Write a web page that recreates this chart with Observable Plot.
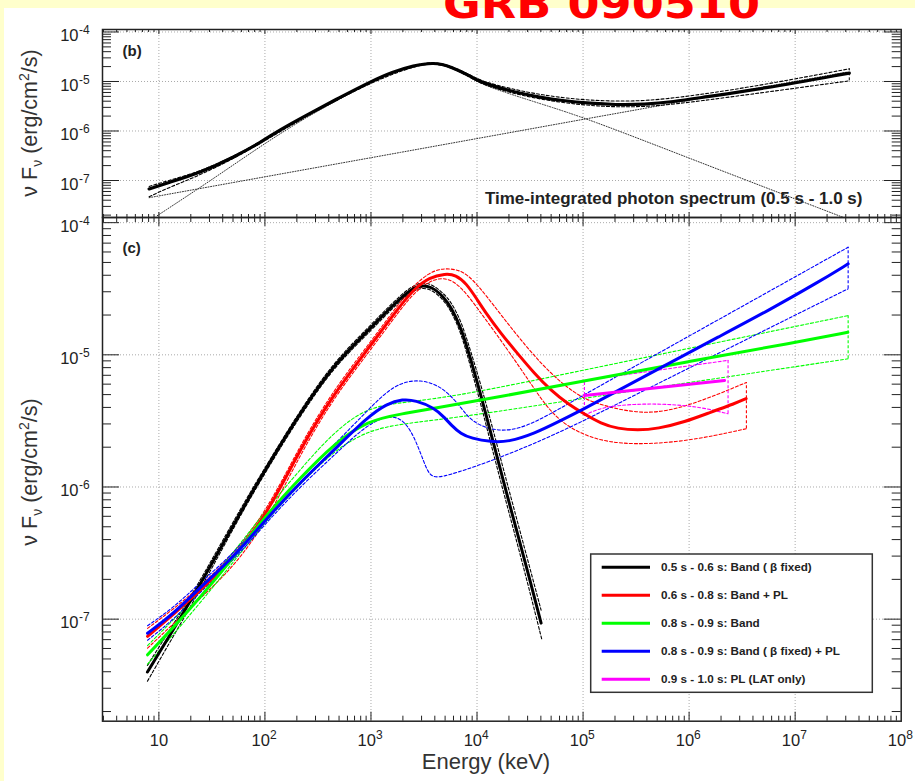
<!DOCTYPE html>
<html><head><meta charset="utf-8">
<script src="https://cdn.jsdelivr.net/npm/d3@7"></script>
<script src="https://cdn.jsdelivr.net/npm/@observablehq/plot@0.6"></script>
<style>
body{margin:0;background:#fff;}
#wrap{position:relative;width:915px;height:781px;background:#fff;overflow:hidden;font-family:"Liberation Sans",Arial,sans-serif;}
#wrap > svg{position:absolute;left:0;}
</style></head><body><div id="wrap"></div>
<script>
// ---------------- data (energy keV, nuFnu erg/cm2/s) ----------------
const xDomain = [2.94, 1e8];
const yDomainB = [1.79e-8, 1.122e-4];
const yDomainC = [1.69e-8, 1.094e-4];
const xTickValues = [10, 100, 1e3, 1e4, 1e5, 1e6, 1e7, 1e8];
const xTickExps = ["", "2", "3", "4", "5", "6", "7", "8"];
const yTickValues = [1e-4, 1e-5, 1e-6, 1e-7];
const yTickExps = ["-4", "-5", "-6", "-7"];

// panel (b)
const bTotal = [[8.09,6.76e-8],[12.0,8.9e-8],[24.8,1.45e-7],[51.1,2.95e-7],[97.9,6.46e-7],[132,1.0e-6],[251,2.14e-6],[501,4.68e-6],[1000,1.0e-5],[1585,1.55e-5],[2512,2.09e-5],[3890,2.45e-5],[5690,2.01e-5],[8790,1.26e-5],[10470,1.0e-5],[16870,7.24e-6],[26060,5.73e-6],[40270,4.75e-6],[62090,4.13e-6],[119400,3.6e-6],[200000,3.39e-6],[380000,3.43e-6],[708000,3.89e-6],[1.35e6,4.79e-6],[4.79e6,7.08e-6],[3.24e7,1.48e-5]];
const bUpper = [[8.09,7.6e-8],[12.0,9.8e-8],[24.8,1.54e-7],[51.1,3.08e-7],[97.9,6.7e-7],[251,2.22e-6],[1000,1.03e-5],[2512,2.15e-5],[3890,2.52e-5],[5690,2.08e-5],[8790,1.33e-5],[10470,1.07e-5],[16870,7.9e-6],[40270,5.25e-6],[119400,4.05e-6],[380000,3.9e-6],[1.35e6,5.5e-6],[4.79e6,8.4e-6],[3.24e7,1.8e-5]];
const bLower = [[8.09,4.7e-8],[12.0,7.0e-8],[24.8,1.3e-7],[51.1,2.8e-7],[97.9,6.2e-7],[251,2.06e-6],[1000,9.7e-6],[2512,2.03e-5],[3890,2.38e-5],[5690,1.94e-5],[8790,1.19e-5],[10470,9.4e-6],[16870,6.6e-6],[40270,4.25e-6],[119400,3.15e-6],[380000,2.95e-6],[1.35e6,4.1e-6],[4.79e6,5.9e-6],[3.24e7,1.03e-5]];
const bPL = [[8.1,4.5e-8],[1900,3.7e-7],[1.1e5,1.78e-6],[3.1e7,1.55e-5]];
const bBand = [[9.66,1.95e-8],[30.9,1.0e-7],[97.7,5.5e-7],[251,1.95e-6],[501,4.37e-6],[1000,9.55e-6],[1585,1.51e-5],[2512,2.04e-5],[3890,2.4e-5],[5690,1.95e-5],[8790,1.2e-5],[10470,9.3e-6],[16870,6.37e-6],[40270,3.52e-6],[110000,1.78e-6],[1e6,2.82e-7],[2.88e7,1.78e-8]];
const bCaps = [{e:3.24e7, lo:1.03e-5, hi:1.8e-5}];

// panel (c)
const cBlack = [[7.8,3.98e-8],[13.9,8.5e-8],[24.9,1.86e-7],[59,6.46e-7],[106,1.45e-6],[219,3.72e-6],[451,8.51e-6],[931,1.51e-5],[1920,2.75e-5],[2770,3.39e-5],[3720,3.31e-5],[4900,2.72e-5],[5690,2.29e-5],[7060,1.62e-5],[8770,9.12e-6],[11000,4.79e-6],[14100,2.24e-6],[18200,1.02e-6],[24200,4.37e-7],[31200,2.04e-7],[40200,9.33e-8]];
const cBlackUp = [[7.8,4.47e-8],[13.9,9.3e-8],[24.9,1.99e-7],[59,6.9e-7],[106,1.51e-6],[219,3.9e-6],[451,8.9e-6],[931,1.59e-5],[1920,2.88e-5],[2770,3.55e-5],[3720,3.47e-5],[4900,2.88e-5],[5690,2.51e-5],[7060,1.82e-5],[8770,1.05e-5],[11000,5.75e-6],[14100,2.75e-6],[18200,1.26e-6],[24200,5.37e-7],[31200,2.51e-7],[40200,1.17e-7]];
const cBlackLo = [[7.8,3.39e-8],[13.9,7.6e-8],[24.9,1.7e-7],[59,6.17e-7],[106,1.38e-6],[219,3.55e-6],[451,8.13e-6],[931,1.44e-5],[1920,2.63e-5],[2770,3.24e-5],[3720,3.16e-5],[4900,2.57e-5],[5690,2.14e-5],[7060,1.48e-5],[8770,7.94e-6],[11000,4.07e-6],[14100,1.86e-6],[18200,8.5e-7],[24200,3.63e-7],[31200,1.66e-7],[40700,7.1e-8]];

const cRed = [[7.82,7.41e-8],[13.9,1.1e-7],[24.9,1.66e-7],[51.3,2.95e-7],[106,6.31e-7],[219,2.0e-6],[451,5.13e-6],[931,1.1e-5],[1920,2.4e-5],[2570,3.16e-5],[3550,3.85e-5],[5010,4.12e-5],[6310,4.03e-5],[7940,3.47e-5],[10000,2.63e-5],[11700,2.16e-5],[16800,1.45e-5],[24200,1.02e-5],[34700,7.24e-6],[49900,5.37e-6],[71600,4.27e-6],[102000,3.58e-6],[148000,3.02e-6],[212000,2.76e-6],[328000,2.68e-6],[507000,2.76e-6],[904000,3.1e-6],[1.61e6,3.69e-6],[2.68e6,4.27e-6],[3.45e6,4.66e-6]];
const cRedUp = [[7.82,8.51e-8],[13.9,1.2e-7],[24.9,1.78e-7],[51.3,3.16e-7],[106,6.76e-7],[219,2.14e-6],[451,5.5e-6],[931,1.17e-5],[1920,2.57e-5],[2570,3.39e-5],[3550,4.17e-5],[4570,4.5e-5],[6310,4.47e-5],[8770,3.98e-5],[16800,2.0e-5],[40200,8.32e-6],[86100,4.92e-6],[148000,4.14e-6],[398000,3.47e-6],[1.05e6,4.14e-6],[3.47e6,6.18e-6]];
const cRedLo = [[7.82,6.03e-8],[13.9,9.33e-8],[24.9,1.45e-7],[51.3,2.51e-7],[106,5.62e-7],[219,1.82e-6],[451,4.79e-6],[931,1.02e-5],[1920,2.24e-5],[2570,2.95e-5],[3550,3.63e-5],[5010,3.89e-5],[7060,3.34e-5],[11700,1.91e-5],[16800,1.29e-5],[32400,6.03e-6],[49900,3.58e-6],[89100,2.53e-6],[212000,2.06e-6],[906000,2.18e-6],[3.47e6,2.76e-6]];

const cGreen = [[7.82,5.37e-8],[13.9,8.77e-8],[24.9,1.48e-7],[51.3,2.97e-7],[106,6.31e-7],[219,1.19e-6],[451,2.13e-6],[931,3.19e-6],[1995,3.59e-6],[3981,3.94e-6],[15850,4.79e-6],[1e5,6.31e-6],[1e6,8.91e-6],[1e7,1.24e-5],[3.14e7,1.48e-5]];
const cGreenUp = [[7.82,6.31e-8],[13.9,1.0e-7],[24.9,1.62e-7],[51.3,3.24e-7],[106,6.92e-7],[219,1.38e-6],[451,2.63e-6],[929,4.02e-6],[1995,4.35e-6],[7060,4.92e-6],[1e5,7.64e-6],[1e6,1.12e-5],[3.16e7,1.98e-5]];
const cGreenLo = [[7.82,4.57e-8],[13.9,7.76e-8],[24.9,1.35e-7],[51.3,2.75e-7],[106,5.75e-7],[219,1.07e-6],[450,1.89e-6],[929,2.67e-6],[1995,3.02e-6],[7060,3.37e-6],[1e5,4.68e-6],[1e6,6.17e-6],[3.16e7,9.33e-6]];

const cBlue = [[7.82,7.82e-8],[13.9,1.11e-7],[24.9,1.76e-7],[51.3,2.97e-7],[106,5.89e-7],[219,1.1e-6],[451,1.91e-6],[931,3.39e-6],[1413,4.27e-6],[1995,4.62e-6],[2630,4.52e-6],[3954,3.98e-6],[5012,3.31e-6],[5689,2.95e-6],[7079,2.51e-6],[8790,2.34e-6],[13580,2.19e-6],[19500,2.19e-6],[34750,2.53e-6],[62090,3.19e-6],[103000,3.91e-6],[213300,5.37e-6],[632400,8.55e-6],[1.875e6,1.36e-5],[5.56e6,2.16e-5],[1.648e7,3.54e-5],[3.16e7,4.88e-5]];
const cBlueUp = [[7.82,8.91e-8],[13.9,1.23e-7],[24.9,1.91e-7],[51.3,3.16e-7],[106,6.31e-7],[219,1.17e-6],[451,2.09e-6],[929,3.8e-6],[1660,6.03e-6],[2951,6.61e-6],[4898,5.62e-6],[7079,3.98e-6],[8790,3.16e-6],[13580,2.67e-6],[24210,2.67e-6],[49890,3.58e-6],[103000,5.01e-6],[632400,1.13e-5],[5.56e6,2.99e-5],[3.16e7,6.52e-5]];
const cBlueLo = [[7.82,6.92e-8],[13.9,1.0e-7],[24.9,1.62e-7],[51.3,2.82e-7],[106,5.5e-7],[219,1.02e-6],[451,1.74e-6],[929,3.02e-6],[1660,3.63e-6],[2382,2.82e-6],[3192,1.5e-6],[3681,1.15e-6],[5284,1.22e-6],[11720,1.5e-6],[49890,2.38e-6],[316200,5.01e-6],[3.162e6,1.26e-5],[3.16e7,3.16e-5]];

const cMag = [[103000,4.93e-6],[2.16e6,6.4e-6]];
const cMagUp = [[103000,6.4e-6],[2.33e6,9.08e-6]];
const cMagLo = [[103000,3.48e-6],[148000,4.02e-6],[305000,4.25e-6],[631000,4.25e-6],[1.3e6,4.02e-6],[2.33e6,3.58e-6]];

const seriesNames = ["0.5 s - 0.6 s: Band ( β fixed)", "0.6 s - 0.8 s: Band + PL", "0.8 s - 0.9 s: Band", "0.8 s - 0.9 s: Band ( β fixed) + PL", "0.9 s - 1.0 s: PL (LAT only)"];
const seriesColors = ["#000000", "#ff0000", "#00ff00", "#0000ff", "#ff00ff"];
const cCaps = [
  {e:3.47e6, lo:2.76e-6, hi:6.18e-6, c:"#ff0000"},
  {e:3.16e7, lo:9.33e-6, hi:1.98e-5, c:"#00ff00"},
  {e:3.16e7, lo:3.16e-5, hi:6.52e-5, c:"#0000ff"},
  {e:103000, lo:3.48e-6, hi:6.4e-6, c:"#ff00ff"},
  {e:2.33e6, lo:3.58e-6, hi:9.08e-6, c:"#ff00ff"}
];

// ---------------- layout ----------------
const W = 915, ML = 102, MR = 14.3, FW = W - ML - MR;
const HB = 188, HC = 503.7;
const font = "'Liberation Sans', Arial, sans-serif";
const ink = "#222";
const CURVE = "basis";

function minorTicks(lo, hi) {
  const out = [];
  for (let k = Math.floor(Math.log10(lo)); k <= Math.ceil(Math.log10(hi)); k++)
    for (let m = 2; m <= 9; m++) { const v = m * Math.pow(10, k); if (v > lo && v < hi) out.push(v); }
  return out;
}
const xMajor = xTickValues.slice(0, -1);
const xMinor = minorTicks(xDomain[0], xDomain[1]);

function axisMarks(yDom, H, xMaj, xMin) {
  const yMin = minorTicks(yDom[0], yDom[1]);
  const s = {stroke: ink, strokeWidth: 1};
  return [
    Plot.tickX(xMajor, {x: d => d, insetTop: H - xMaj, ...s}),
    Plot.tickX(xMinor, {x: d => d, insetTop: H - xMin, ...s}),
    Plot.tickX(xMajor, {x: d => d, insetBottom: H - xMaj, ...s}),
    Plot.tickX(xMinor, {x: d => d, insetBottom: H - xMin, ...s}),
    Plot.tickY(yTickValues, {y: d => d, insetRight: FW - 17, ...s}),
    Plot.tickY(yMin, {y: d => d, insetRight: FW - 9, ...s}),
    Plot.tickY(yTickValues, {y: d => d, insetLeft: FW - 17, ...s}),
    Plot.tickY(yMin, {y: d => d, insetLeft: FW - 9, ...s}),
    Plot.frame({stroke: ink, strokeWidth: 1.5})
  ];
}
function gridMarks() {
  const g = {stroke: "#aaa", strokeWidth: 1, strokeDasharray: "1,2"};
  return [Plot.ruleX(xMajor, {x: d => d, ...g}), Plot.ruleY(yTickValues, {y: d => d, ...g})];
}
function yLabels() {
  const yt = yTickValues.map((v, i) => ({v, e: yTickExps[i]}));
  return [
    Plot.text(yt, {y: "v", text: () => "10", frameAnchor: "left", textAnchor: "end", lineAnchor: "middle", dx: -24, dy: 4, fontSize: 16.5, fill: ink}),
    Plot.text(yt, {y: "v", text: "e", frameAnchor: "left", textAnchor: "start", lineAnchor: "middle", dx: -23.5, dy: -1.5, fontSize: 12, fill: ink})
  ];
}
const P = () => ({x: d => d[0], y: d => d[1]});
function solid(data, c, extra = {}) { return Plot.line(data, {...P(), stroke: c, strokeWidth: 3, curve: CURVE, clip: true, ...extra}); }
function dashed(data, c) { return Plot.line(data, {...P(), stroke: c, strokeWidth: 1.1, strokeDasharray: "3,2", curve: CURVE, clip: true}); }
function dotted(data, curve) { return Plot.line(data, {...P(), stroke: "#333", strokeWidth: 1, strokeDasharray: "1,1.6", curve, clip: true}); }

const wrap = document.getElementById("wrap");

// background strips
wrap.insertAdjacentHTML("beforeend", `<div style="position:absolute;left:0;top:0;width:915px;height:8px;background:#ffffcc"></div><div style="position:absolute;left:0;top:0;width:4px;height:781px;background:#ffffcc"></div>`);

const plotB = Plot.plot({
  width: W, height: 220, marginTop: 29, marginBottom: 3, marginLeft: ML, marginRight: MR,
  x: {type: "log", domain: xDomain, axis: null},
  y: {type: "log", domain: yDomainB, axis: null},
  style: {background: "transparent", fontFamily: font, overflow: "visible"},
  marks: [
    ...gridMarks(),
    dotted(bPL, "linear"),
    dotted(bBand, CURVE),
    dashed(bUpper, "#000"),
    dashed(bLower, "#000"),
    Plot.ruleX(bCaps, {x: "e", y1: "lo", y2: "hi", stroke: "#000", strokeDasharray: "3,2"}),
    solid(bTotal, "#000", {strokeWidth: 3.2}),
    ...axisMarks(yDomainB, HB, 5, 3),
    ...yLabels(),
    Plot.text(["(b)"], {text: d => d, frameAnchor: "top-left", textAnchor: "start", lineAnchor: "middle", dx: 20, dy: 22, fontSize: 15, fontWeight: "bold", fill: ink}),
    Plot.text(["Time-integrated photon spectrum (0.5 s - 1.0 s)"], {text: d => d, frameAnchor: "bottom-right", textAnchor: "end", lineAnchor: "middle", dx: -38.7, dy: -18.5, fontSize: 17, fontWeight: "bold", fill: ink})
  ]
});
plotB.style.top = "0px";
wrap.appendChild(plotB);

const xt = xTickValues.map((v, i) => ({v, e: xTickExps[i]}));
const plotC = Plot.plot({
  width: W, height: 567, marginTop: 3, marginBottom: 60.3, marginLeft: ML, marginRight: MR,
  x: {type: "log", domain: xDomain, axis: null},
  y: {type: "log", domain: yDomainC, axis: null},
  style: {background: "transparent", fontFamily: font, overflow: "visible"},
  marks: [
    ...gridMarks(),
    dashed(cBlackUp, seriesColors[0]), dashed(cBlackLo, seriesColors[0]),
    dashed(cRedUp, seriesColors[1]), dashed(cRedLo, seriesColors[1]),
    dashed(cGreenUp, seriesColors[2]), dashed(cGreenLo, seriesColors[2]),
    dashed(cBlueUp, seriesColors[3]), dashed(cBlueLo, seriesColors[3]),
    dashed(cMagUp, seriesColors[4]), dashed(cMagLo, seriesColors[4]),
    Plot.ruleX(cCaps, {x: "e", y1: "lo", y2: "hi", stroke: "c", strokeWidth: 1.1, strokeDasharray: "3,2"}),
    solid(cBlack, seriesColors[0]),
    solid(cRed, seriesColors[1]),
    solid(cGreen, seriesColors[2]),
    solid(cBlue, seriesColors[3]),
    solid(cMag, seriesColors[4], {curve: "linear"}),
    ...axisMarks(yDomainC, HC, 9, 5),
    ...yLabels(),
    Plot.text(xt.filter(d => d.e === ""), {x: "v", text: () => "10", frameAnchor: "bottom", textAnchor: "middle", lineAnchor: "middle", dy: 20, fontSize: 16.5, fill: ink}),
    Plot.text(xt.filter(d => d.e !== ""), {x: "v", text: () => "10", frameAnchor: "bottom", textAnchor: "end", lineAnchor: "middle", dx: 5, dy: 20, fontSize: 16.5, fill: ink}),
    Plot.text(xt.filter(d => d.e !== ""), {x: "v", text: "e", frameAnchor: "bottom", textAnchor: "start", lineAnchor: "middle", dx: 5, dy: 13.5, fontSize: 12, fill: ink}),
    Plot.text(["(c)"], {text: d => d, frameAnchor: "top-left", textAnchor: "start", lineAnchor: "middle", dx: 20, dy: 30.5, fontSize: 15, fontWeight: "bold", fill: ink})
  ]
});
plotC.style.top = "214px";
wrap.appendChild(plotC);

// overlay: title, axis titles, legend
const ytitle = (cy) => `<text transform="translate(37,${cy}) rotate(-90)" text-anchor="middle" font-size="21.5" fill="#333">ν F<tspan dy="5" font-size="14">ν</tspan><tspan dy="-5"> (erg/cm</tspan><tspan dy="-8" font-size="14">2</tspan><tspan dy="8">/s)</tspan></text>`;
let leg = `<rect x="590.7" y="554" width="281.6" height="138.3" fill="#fff" stroke="#333" stroke-width="1.5"/>`;
seriesNames.forEach((n, i) => {
  const y = 567.3 + i * 28;
  leg += `<line x1="601.7" x2="650" y1="${y}" y2="${y}" stroke="${seriesColors[i]}" stroke-width="3"/>`;
  leg += `<text x="661" y="${y + 4}" font-size="11.7" font-weight="bold" fill="${ink}">${n}</text>`;
});
wrap.insertAdjacentHTML("beforeend", `<svg width="915" height="781" style="top:0;font-family:${font}" xmlns="http://www.w3.org/2000/svg">
<text x="443" y="18" font-family="'DejaVu Sans', sans-serif" font-weight="bold" font-size="41" fill="#ff0000" textLength="317" lengthAdjust="spacingAndGlyphs">GRB 090510</text>
${ytitle(123)}
${ytitle(472)}
<text x="486" y="769" text-anchor="middle" font-size="22" fill="#333">Energy (keV)</text>
${leg}
</svg>`);
</script></body></html>
